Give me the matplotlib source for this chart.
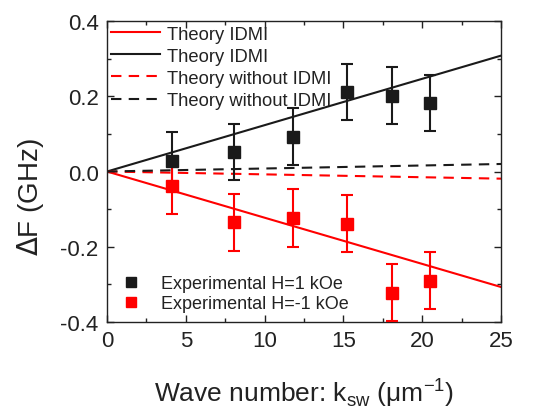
import numpy as np
import matplotlib
matplotlib.use("Agg")
import matplotlib.pyplot as plt
from matplotlib.lines import Line2D

plt.rcParams['font.family'] = ['Liberation Sans', 'DejaVu Sans']

# experimental points (k in um^-1, dF in GHz)
k_exp = [4.1, 8.07, 11.83, 15.22, 18.1, 20.47]
df_pos = [0.029, 0.052, 0.092, 0.212, 0.201, 0.182]
df_neg = [-0.038, -0.135, -0.124, -0.139, -0.322, -0.290]
err_pos = [0.075, 0.074, 0.076, 0.075, 0.076, 0.075]
err_neg = [0.075, 0.076, 0.077, 0.076, 0.076, 0.076]

# theory lines (linear, given by end points)
k_th = [0, 25]
th_idmi_neg = [0, -0.307]
th_idmi_pos = [0, 0.308]
th_no_neg = [0, -0.019]
th_no_pos = [0, 0.020]

red = '#ff0000'
blk = '#1a1a1a'
txt = '#222222'

fig = plt.figure(figsize=(5.33, 4.1), dpi=100)
ax = fig.add_axes([0.2008, 0.2122, 0.7392, 0.7341])

l1, = ax.plot(k_th, th_idmi_neg, color=red, lw=1.5, label='Theory IDMI')
l2, = ax.plot(k_th, th_idmi_pos, color=blk, lw=1.5, label='Theory IDMI')
l3, = ax.plot(k_th, th_no_neg, color=red, lw=1.5, dashes=(5, 3.5), label='Theory without IDMI')
l4, = ax.plot(k_th, th_no_pos, color=blk, lw=1.5, dashes=(5, 3.5), label='Theory without IDMI')

ax.errorbar(k_exp, df_pos, yerr=err_pos, fmt='s', color=blk, ms=8,
            elinewidth=1.5, capsize=4.5, capthick=1.5, zorder=3)
ax.errorbar(k_exp, df_neg, yerr=err_neg, fmt='s', color=red, ms=8,
            elinewidth=1.5, capsize=4.5, capthick=1.5, zorder=3)

ax.set_xlim(0, 25)
ax.set_ylim(-0.4, 0.4)
ax.set_xticks([0, 5, 10, 15, 20, 25])
ax.set_xticks(np.arange(2.5, 25, 5), minor=True)
ax.set_yticks([-0.4, -0.2, 0.0, 0.2, 0.4])
ax.set_yticks([-0.3, -0.1, 0.1, 0.3], minor=True)
ax.set_yticklabels(['-0.4', '-0.2', '0.0', '0.2', '0.4'])
ax.tick_params(which='both', direction='in', top=True, right=True, labelsize=16,
               colors=txt, pad=6)
ax.tick_params(which='major', length=5, width=1)
ax.tick_params(which='minor', length=3, width=1)
for s in ax.spines.values():
    s.set_linewidth(1)
    s.set_color(txt)

ax.set_xlabel(r'Wave number: k$_{\mathregular{sw}}$ ($\mathregular{\mu}$m$^{\mathregular{-1}}$)',
              fontsize=19, color=txt, labelpad=17)
fig.text(30 / 533, 1 - 197 / 410, r'$\Delta$F (GHz)', rotation=90, fontsize=20,
         color=txt, ha='center', va='center')

leg1 = ax.legend(handles=[l1, l2, l3, l4], loc='upper left', bbox_to_anchor=(0.01, 0.985),
                 fontsize=13.2, frameon=False, handlelength=2.7, handletextpad=0.35,
                 labelspacing=0.28, borderaxespad=0, borderpad=0)
for t in leg1.get_texts():
    t.set_color(txt)
ax.add_artist(leg1)

h1 = Line2D([], [], marker='s', ls='none', color=blk, ms=7)
h2 = Line2D([], [], marker='s', ls='none', color=red, ms=7)
leg2 = ax.legend([h1, h2], ['Experimental H=1 kOe', 'Experimental H=-1 kOe'],
                 loc='lower left', bbox_to_anchor=(0.015, 0.033), fontsize=13,
                 frameon=False, handlelength=2.0, handletextpad=0.67, labelspacing=0.15,
                 borderaxespad=0, borderpad=0)
for t in leg2.get_texts():
    t.set_color(txt)

fig.savefig('out.png', dpi=100)
